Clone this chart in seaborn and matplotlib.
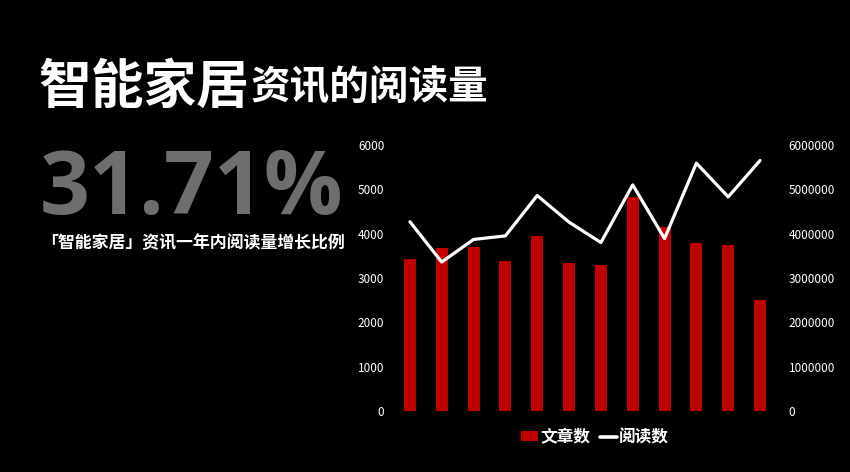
import numpy as np
import pandas as pd
import matplotlib
matplotlib.use("Agg")
import matplotlib.pyplot as plt
import seaborn as sns
from matplotlib.patches import Patch
from matplotlib.lines import Line2D
from matplotlib.ticker import FuncFormatter

# data
months = ["1月", "2月", "3月", "4月", "5月", "6月", "7月", "8月", "9月", "10月", "11月", "12月"]
articles = [3420, 3670, 3700, 3380, 3940, 3330, 3290, 4820, 4150, 3800, 3740, 2500]
reads = [4270000, 3360000, 3870000, 3950000, 4860000, 4260000,
         3800000, 5100000, 3890000, 5590000, 4830000, 5650000]
left_ticks = [0, 1000, 2000, 3000, 4000, 5000, 6000]
right_ticks = [0, 1000000, 2000000, 3000000, 4000000, 5000000, 6000000]

title_big = "智能家居"
title_small = "资讯的阅读量"
big_number = "31.71%"
subtitle = "「智能家居」资讯一年内阅读量增长比例"
bar_label = "文章数"
line_label = "阅读数"

df = pd.DataFrame({"month": months, "articles": articles, "reads": reads,
                   "idx": np.arange(len(months))})

sns.set_style("dark")
plt.rcParams['font.family'] = ['Noto Sans CJK SC', 'DejaVu Sans']
plt.rcParams['axes.unicode_minus'] = False

fig = plt.figure(figsize=(8.5, 4.72), dpi=100, facecolor="black")
ax = fig.add_axes([0.4635, 0.1292, 0.4494, 0.5636])
ax.set_facecolor("black")

sns.barplot(data=df, x="month", y="articles", color="#c00000", width=0.38,
            saturation=1, edgecolor="none", linewidth=0, ax=ax)
ax.set_ylim(0, 6000)
ax.set_yticks(left_ticks)
ax.set_xlim(-0.5, len(months) - 0.5)
ax.set_xticks([])
ax.set_xlabel("")
ax.set_ylabel("")
ax.tick_params(axis="y", colors="white", labelsize=8.5, length=0, pad=7)
for s in ax.spines.values():
    s.set_visible(False)
ax.grid(False)

ax2 = ax.twinx()
sns.lineplot(data=df, x="idx", y="reads", color="white", linewidth=2.3, ax=ax2)
ax2.set_ylim(0, 6000000)
ax2.set_yticks(right_ticks)
ax2.yaxis.set_major_formatter(FuncFormatter(lambda v, p: f"{int(v)}"))
ax2.set_xlim(-0.5, len(months) - 0.5)
ax2.set_ylabel("")
ax2.set_xlabel("")
ax2.tick_params(axis="y", colors="white", labelsize=8.5, length=0, pad=9)
for s in ax2.spines.values():
    s.set_visible(False)
ax2.grid(False)

handles = [Patch(facecolor="#c00000", edgecolor="none"),
           Line2D([0], [0], color="white", linewidth=2.6)]
leg = fig.legend(handles, [bar_label, line_label], loc="center",
                 bbox_to_anchor=(595 / 850, 1 - 437 / 472), ncol=2, frameon=False,
                 handlelength=1.0, handleheight=0.55, handletextpad=0.15,
                 columnspacing=0.6, prop={"size": 12, "weight": "bold"})
for t in leg.get_texts():
    t.set_color("white")

# headline
t1 = fig.text(38 / 850, 1 - 103 / 472, title_big, color="white", fontsize=38,
              fontweight="bold", ha="left", va="baseline")
fig.canvas.draw()
bb = t1.get_window_extent()
fig.text(bb.x1 / 850 + 0.002, 1 - 100 / 472, title_small, color="white", fontsize=28.5,
         fontweight="bold", ha="left", va="baseline")

fig.text(40 / 850, 1 - 214 / 472, big_number, color="#6e6e6e", fontsize=63,
         fontweight="bold", ha="left", va="baseline", family=["Open Sans", "DejaVu Sans"])
fig.text(41 / 850, 1 - 248 / 472, subtitle, color="white", fontsize=12.2,
         fontweight="bold", ha="left", va="baseline")

fig.savefig("out.png", dpi=100, facecolor="black")
